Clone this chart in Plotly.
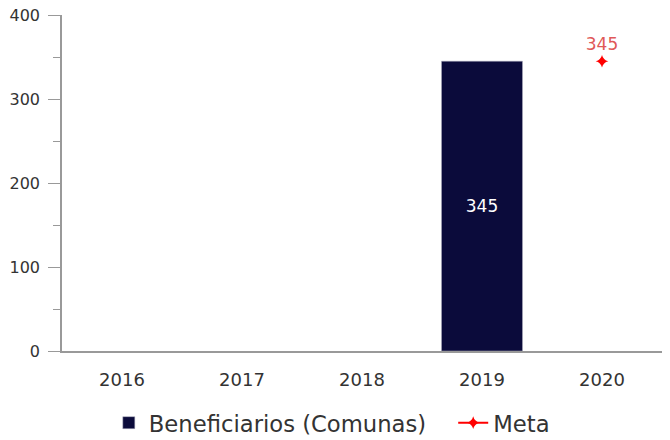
import plotly.graph_objects as go

years = ["2016", "2017", "2018", "2019", "2020"]
beneficiarios = [None, None, None, 345, None]
meta_years = ["2020"]
meta_values = [345]
y_ticks = [0, 100, 200, 300, 400]

fig = go.Figure()
fig.add_trace(go.Bar(
    x=years, y=beneficiarios, name="Beneficiarios (Comunas)",
    marker=dict(color="#0b0b3b", line=dict(color="#b0b0c0", width=0.5)),
    width=0.675,
    text=[("" if v is None else str(v)) for v in beneficiarios],
    textposition="inside", insidetextanchor="middle",
    textfont=dict(color="white", size=17, family="DejaVu Sans"),
    legend="legend",
))
fig.add_trace(go.Scatter(
    x=meta_years, y=meta_values, name="Meta",
    mode="lines+markers+text",
    marker=dict(symbol="star-diamond", size=9, color="red"),
    line=dict(color="red", width=2),
    text=[str(v) for v in meta_values], textposition="top center",
    textfont=dict(color="#e05858", size=17, family="DejaVu Sans"),
    legend="legend2",
))
legend_font = dict(size=22.7, color="#333333", family="DejaVu Sans")
fig.update_layout(
    width=670, height=440,
    margin=dict(l=62, r=8, t=15, b=89, autoexpand=False),
    plot_bgcolor="white", paper_bgcolor="white",
    font=dict(family="DejaVu Sans", color="#333333", size=16),
    bargap=0.325,
    showlegend=True,
    legend=dict(orientation="h", x=0.078, xanchor="left", y=-0.214, yanchor="middle",
                font=legend_font),
    legend2=dict(orientation="h", x=0.652, xanchor="left", y=-0.214, yanchor="middle",
                 font=legend_font),
    xaxis=dict(type="category", categoryorder="array", categoryarray=years,
               showline=True, linecolor="#999999", linewidth=1.5, automargin=False,
               ticks="", ticklabelstandoff=12, showgrid=False,
               tickfont=dict(size=18, color="#333333")),
    yaxis=dict(range=[0, 400], tickvals=y_ticks, showline=True, linecolor="#999999",
               linewidth=1.5, ticks="outside", ticklen=12, tickcolor="#999999",
               automargin=False, ticklabelstandoff=5,
               showgrid=False, zeroline=False, tickfont=dict(size=16, color="#333333"),
               minor=dict(ticks="outside", ticklen=7, dtick=50, tickcolor="#999999",
                          showgrid=False)),
)
fig.write_html("out.html", config={"displayModeBar": False},
               post_script="document.body.style.margin='0';")
